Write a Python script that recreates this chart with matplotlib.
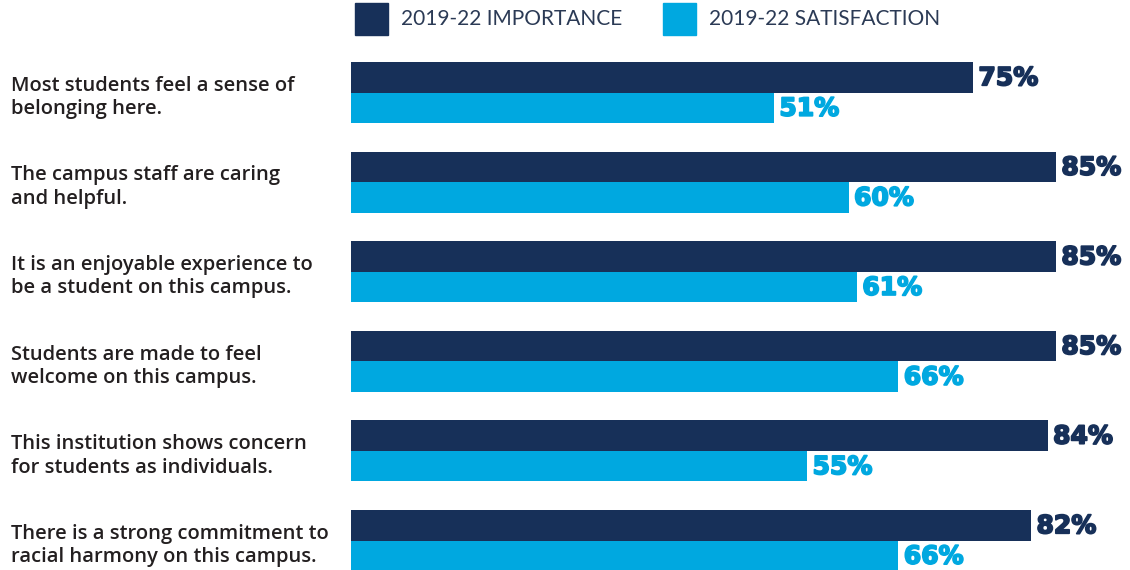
import matplotlib
matplotlib.use("Agg")
import matplotlib.pyplot as plt
from matplotlib.patches import Rectangle
import matplotlib.patheffects as pe

categories = [
    "Most students feel a sense of\nbelonging here.",
    "The campus staff are caring\nand helpful.",
    "It is an enjoyable experience to\nbe a student on this campus.",
    "Students are made to feel\nwelcome on this campus.",
    "This institution shows concern\nfor students as individuals.",
    "There is a strong commitment to\nracial harmony on this campus.",
]
importance = [75, 85, 85, 85, 84, 82]
satisfaction = [51, 60, 61, 66, 55, 66]
series_names = ["2019-22 IMPORTANCE", "2019-22 SATISFACTION"]
title = "CAMPUS CLIMATE ITEMS"

NAVY = "#173059"
BLUE = "#00A8E0"
TEXT = "#231F20"

W, H = 1130, 570
fig = plt.figure(figsize=(W / 100, H / 100), dpi=100)

# axes in pixel-like coordinates: x in percent, y in pixels from the top
left_px = 351
px_per_pct = 8.294
ax = fig.add_axes([left_px / W, 0, 1 - left_px / W, 1])
ax.set_xlim(0, (W - left_px) / px_per_pct)
ax.set_ylim(H, 0)
ax.axis("off")


def value_label(x, y, val, col):
    ax.text(x + 0.65, y, f"{val}%", ha="left", va="center", color=col,
            fontsize=18, fontweight="bold", family="DejaVu Sans",
            path_effects=[pe.withStroke(linewidth=1.3, foreground=col)])


row0, row_step, bar_h = 62, 89.6, 30.5
for i, (cat, imp, sat) in enumerate(zip(categories, importance, satisfaction)):
    top = row0 + i * row_step
    ax.barh(top + bar_h / 2, imp, height=bar_h, color=NAVY, edgecolor="none")
    ax.barh(top + bar_h * 1.5, sat, height=bar_h, color=BLUE, edgecolor="none")
    value_label(imp, top + bar_h / 2 + 1, imp, NAVY)
    value_label(sat, top + bar_h * 1.5 + 1, sat, BLUE)
    fig.text(11 / W, 1 - (top + 35.5) / H, cat, ha="left", va="center",
             color=TEXT, fontsize=14.5, fontweight="semibold",
             family="Open Sans", linespacing=1.22)

# legend
for x0, name, col in [(355, series_names[0], NAVY), (663, series_names[1], BLUE)]:
    fig.patches.append(Rectangle((x0 / W, 1 - 35 / H), 33 / W, 32 / H,
                                 transform=fig.transFigure, color=col))
    fig.text((x0 + 46) / W, 1 - 19 / H, name, ha="left", va="center",
             color="#2B3A55", fontsize=15, family="Lato")

# section title, mostly above the top edge
fig.text(14 / W, 1 + 1 / H, title, ha="left", va="baseline",
         color="#8FD3F0", fontsize=20, fontweight="bold", family="Lato")

fig.savefig("out.png", dpi=100)
